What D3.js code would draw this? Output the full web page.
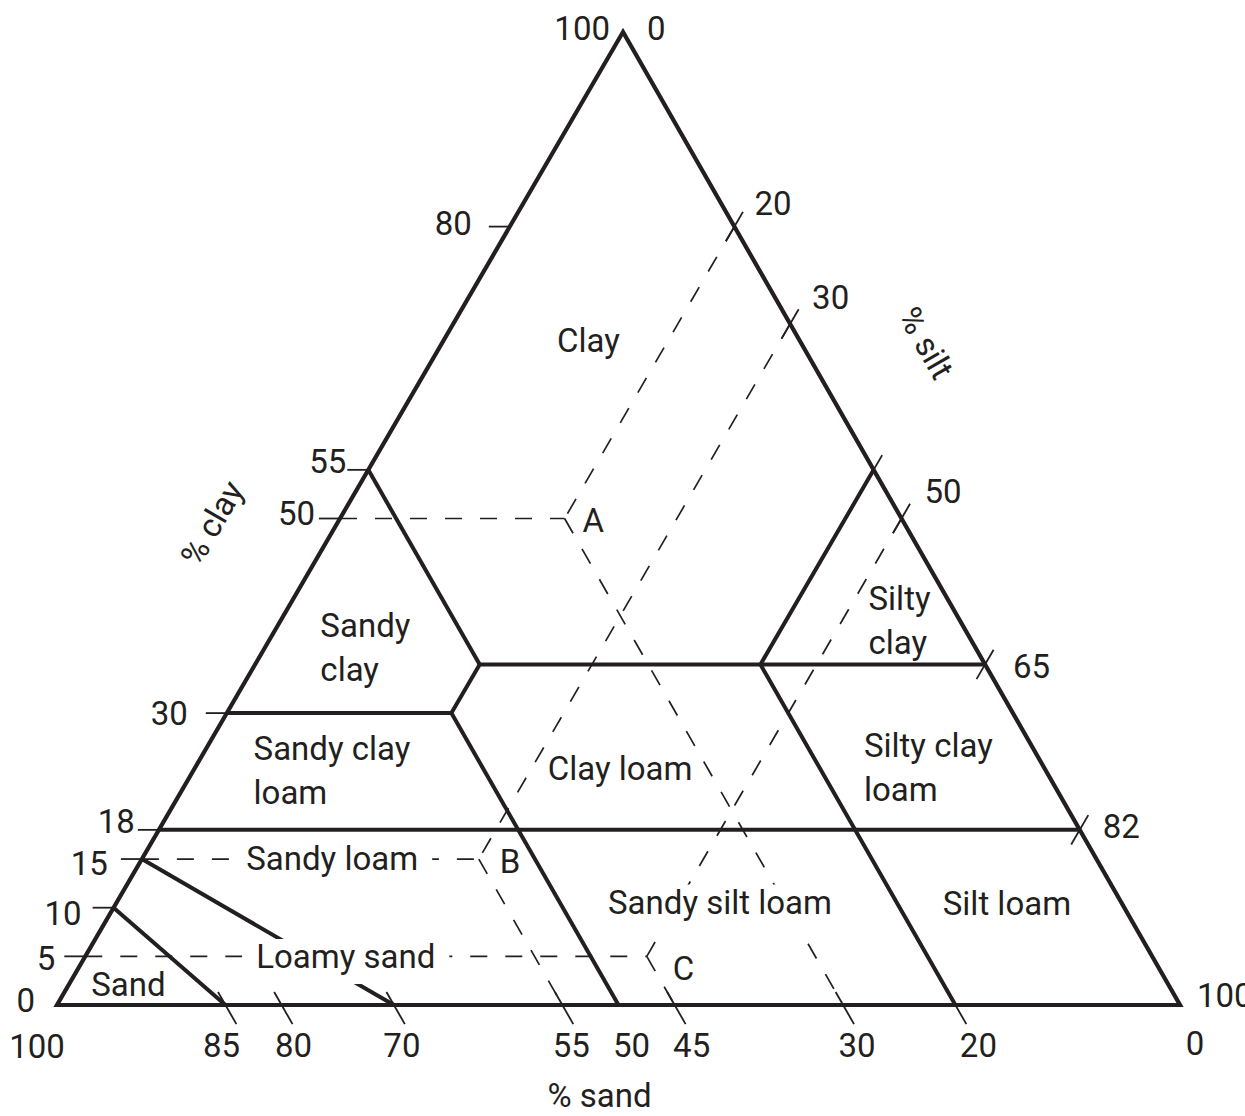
<!DOCTYPE html>
<html>
<head>
<meta charset="utf-8">
<script src="https://cdn.jsdelivr.net/npm/d3@7"></script>
<style>
  html, body { margin: 0; background: #fff; }
  svg { display: block; }
  text { font-family: Roboto, "Noto Sans", sans-serif; font-size: 33px; fill: #231f20; }
</style>
</head>
<body>
<svg id="chart" width="1245" height="1116"></svg>
<script>
// ---- data: soil texture triangle (clay / sand / silt, %) -------------------
const clayTicks = [80, 55, 50, 30, 18, 15, 10, 5];
const siltTicks = [20, 30, 45, 50, 65, 82];
const siltLabels = [20, 30, 50, 65, 82];
const sandTicks = [85, 80, 70, 55, 45, 30, 20];
const sandLabels = [85, 80, 70, 55, 50, 45, 30, 20];

// class boundaries, each a polyline of [clay, sand] vertices
const boundaries = [
  [[18, 82], [18, 0]],
  [[30, 70], [30, 50], [35, 45], [35, 0]],
  [[55, 45], [35, 45]],
  [[30, 50], [0, 50]],
  [[55, 0], [35, 20], [0, 20]],
  [[15, 85], [0, 70]],
  [[10, 90], [0, 85]],
];

// worked example samples
const pointNames = ["A", "B", "C"];
const pointClay = [50, 15, 5];
const pointSand = [30, 55, 45];

const classNames = [
  "Clay", "Sandy clay", "Sandy clay loam", "Clay loam", "Sandy loam",
  "Loamy sand", "Sand", "Sandy silt loam", "Silt loam", "Silty clay loam", "Silty clay",
];

// ---- layout ----------------------------------------------------------------
const TOP = { x: 623, y: 32 }, LEFT = { x: 57, y: 1005 }, RIGHT = { x: 1180, y: 1005 };
const INK = "#231f20";
const LINE_H = 44;

// label anchors in [clay, sand] plus alignment / line breaks
const labelLayout = {
  "Clay":            { at: [67.1, 19.4], anchor: "middle" },
  "Sandy clay":      { at: [37.8, 57.8], anchor: "start", lines: ["Sandy", "clay"] },
  "Sandy clay loam": { at: [25.2, 70.0], anchor: "start", lines: ["Sandy clay", "loam"] },
  "Clay loam":       { at: [23.1, 38.4], anchor: "middle" },
  "Sandy loam":      { at: [13.9, 68.6], anchor: "middle", bg: true },
  "Loamy sand":      { at: [3.8, 72.4], anchor: "middle", bg: true },
  "Sand":            { at: [0.9, 93.2], anchor: "middle" },
  "Sandy silt loam": { at: [9.4, 36.3], anchor: "middle", bg: true },
  "Silt loam":       { at: [9.3, 10.8], anchor: "middle" },
  "Silty clay loam": { at: [25.5, 15.5], anchor: "start", lines: ["Silty clay", "loam"] },
  "Silty clay":      { at: [40.6, 7.6], anchor: "start", lines: ["Silty", "clay"] },
};
const pointLabelOffset = { A: [18, 13], B: [21, 14], C: [26, 24] };
// [dx, dy] of each number from its tick
const clayLabelOffset = { 80: [-38, 8], 55: [-22, 3], 50: [-25, 6], 30: [-39, 12],
  18: [-24, 3], 15: [-34, 16], 10: [-32, 17], 5: [-30, 14] };
const siltLabelOffset = { 20: [20, -12], 30: [22, -15], 50: [23, -16], 65: [28, 14], 82: [23, 8] };
const sandLabelOffset = { 85: -4, 80: 12, 70: 8, 55: 9, 50: 13, 45: 17, 30: 14, 20: 23 };

// ---- scales (ternary projection built from linear scales) -------------------
const yClay = d3.scaleLinear().domain([0, 100]).range([LEFT.y, TOP.y]);
const xSand = d3.scaleLinear().domain([0, 100]).range([RIGHT.x, LEFT.x]);
const xClay = d3.scaleLinear().domain([0, 100]).range([0, TOP.x - RIGHT.x]);
const pt = (clay, sand) => [xSand(sand) + xClay(clay), yClay(clay)];

// unit directions: constant-sand (down-right) and constant-silt (up-right)
const unit = (dx, dy) => { const l = Math.hypot(dx, dy); return [dx / l, dy / l]; };
const SAND_DIR = unit(RIGHT.x - TOP.x, RIGHT.y - TOP.y);
const SILT_DIR = unit(TOP.x - LEFT.x, TOP.y - LEFT.y);

const svg = d3.select("#chart");
const line = d3.line();

// ---- dashed construction lines for A, B, C -----------------------------------
const dashed = svg.append("g")
  .attr("fill", "none").attr("stroke", INK)
  .attr("stroke-width", 1.7).attr("stroke-dasharray", "17,18");

pointNames.forEach((name, i) => {
  const c = pointClay[i], s = pointSand[i], silt = 100 - c - s;
  const p = pt(c, s);
  dashed.append("path").attr("d", line([pt(c, 100 - c), p]));
  dashed.append("path").attr("d", line([pt(100 - silt, 0), p]));
  dashed.append("path").attr("d", line([p, pt(0, s)]));
});

// ---- ticks -----------------------------------------------------------------
const ticks = svg.append("g").attr("stroke", INK).attr("stroke-width", 1.8).attr("fill", "none");

ticks.selectAll(".clay-tick").data(clayTicks).join("line")
  .attr("x1", (d) => pt(d, 100 - d)[0] - 21).attr("x2", (d) => pt(d, 100 - d)[0])
  .attr("y1", (d) => yClay(d)).attr("y2", (d) => yClay(d));

ticks.selectAll(".silt-tick").data(siltTicks).join("line")
  .each(function (d) {
    const [x, y] = pt(100 - d, 0);
    d3.select(this)
      .attr("x1", x - SILT_DIR[0] * 17).attr("y1", y - SILT_DIR[1] * 17)
      .attr("x2", x + SILT_DIR[0] * 17).attr("y2", y + SILT_DIR[1] * 17);
  });

ticks.selectAll(".sand-tick").data(sandTicks).join("line")
  .each(function (d) {
    const [x, y] = pt(0, d);
    d3.select(this)
      .attr("x1", x - SAND_DIR[0] * 15).attr("y1", y - SAND_DIR[1] * 15)
      .attr("x2", x + SAND_DIR[0] * 22).attr("y2", y + SAND_DIR[1] * 22);
  });

// ---- triangle and class boundaries ----------------------------------------------
svg.append("path")
  .attr("d", line([pt(100, 0), pt(0, 100), pt(0, 0)]) + "Z")
  .attr("fill", "none").attr("stroke", INK).attr("stroke-width", 4.2)
  .attr("stroke-linejoin", "miter");

svg.append("g").selectAll("path").data(boundaries).join("path")
  .attr("d", (d) => line(d.map(([c, s]) => pt(c, s))))
  .attr("fill", "none").attr("stroke", INK).attr("stroke-width", 4)
  .attr("stroke-linejoin", "round");

// ---- axis numbers ------------------------------------------------------------
const nums = svg.append("g");

nums.selectAll(".clay-num").data(clayTicks).join("text")
  .attr("x", (d) => pt(d, 100 - d)[0] + clayLabelOffset[d][0])
  .attr("y", (d) => yClay(d) + clayLabelOffset[d][1])
  .attr("text-anchor", "end").text((d) => d);

nums.selectAll(".silt-num").data(siltLabels).join("text")
  .attr("x", (d) => pt(100 - d, 0)[0] + siltLabelOffset[d][0])
  .attr("y", (d) => pt(100 - d, 0)[1] + siltLabelOffset[d][1])
  .text((d) => d);

nums.selectAll(".sand-num").data(sandLabels).join("text")
  .attr("x", (d) => pt(0, d)[0] + sandLabelOffset[d]).attr("y", LEFT.y + 52)
  .attr("text-anchor", "middle").text((d) => d);

// corner values
const corners = [
  { t: "100", x: TOP.x - 13, y: TOP.y + 8, a: "end" },
  { t: "0", x: TOP.x + 24, y: TOP.y + 8, a: "start" },
  { t: "0", x: LEFT.x - 22, y: LEFT.y + 7, a: "end" },
  { t: "100", x: LEFT.x - 20, y: LEFT.y + 53, a: "middle" },
  { t: "100", x: RIGHT.x + 17, y: RIGHT.y + 2, a: "start" },
  { t: "0", x: RIGHT.x + 15, y: RIGHT.y + 50, a: "middle" },
];
nums.selectAll(".corner").data(corners).join("text")
  .attr("x", (d) => d.x).attr("y", (d) => d.y).attr("text-anchor", (d) => d.a).text((d) => d.t);

// axis titles
svg.append("text").attr("transform", "translate(212,523) rotate(-60)")
  .attr("text-anchor", "middle").attr("dominant-baseline", "central").text("% clay");
svg.append("text").attr("transform", "translate(926,343) rotate(60)")
  .attr("text-anchor", "middle").attr("dominant-baseline", "central").text("% silt");
svg.append("text").attr("x", (LEFT.x + RIGHT.x) / 2 - 19).attr("y", 1107)
  .attr("text-anchor", "middle").text("% sand");

// ---- class labels --------------------------------------------------------------
const labels = svg.append("g");
classNames.forEach((name) => {
  const L = labelLayout[name];
  const [x, y] = pt(L.at[0], L.at[1]);
  const g = labels.append("g");
  const t = g.append("text").attr("x", x).attr("y", y).attr("text-anchor", L.anchor);
  (L.lines || [name]).forEach((ln, i) => {
    t.append("tspan").attr("x", x).attr("dy", i === 0 ? 0 : LINE_H).text(ln);
  });
  if (L.bg) {
    const b = t.node().getBBox();
    g.insert("rect", "text")
      .attr("x", b.x - 14).attr("y", b.y + 2)
      .attr("width", b.width + 28).attr("height", b.height + 6)
      .attr("fill", "#fff");
  }
});

// sample point letters
pointNames.forEach((name, i) => {
  const [x, y] = pt(pointClay[i], pointSand[i]);
  labels.append("text")
    .attr("x", x + pointLabelOffset[name][0]).attr("y", y + pointLabelOffset[name][1])
    .text(name);
});
</script>
</body>
</html>
